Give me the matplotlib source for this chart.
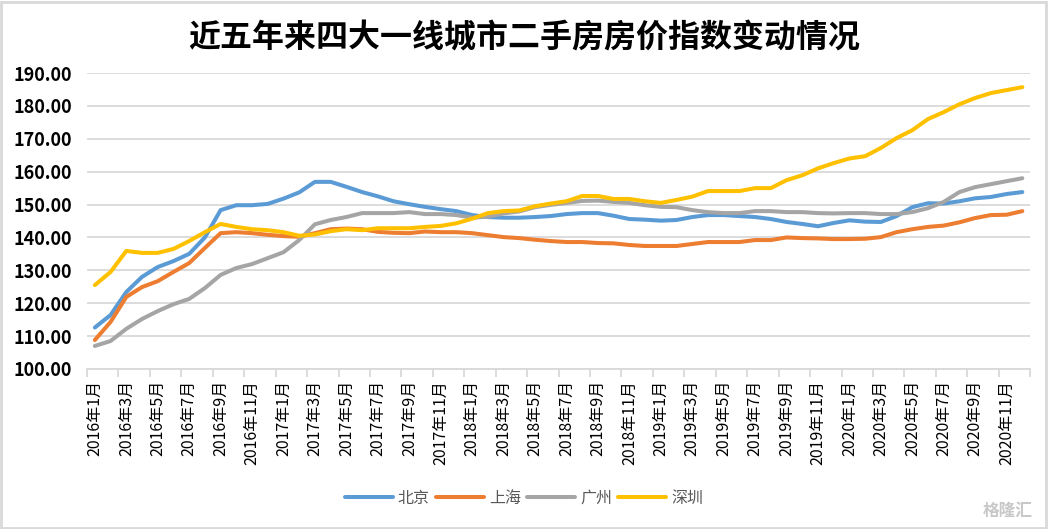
import matplotlib
matplotlib.use("Agg")
import matplotlib.pyplot as plt
from matplotlib.patches import Rectangle
from matplotlib.ticker import FixedLocator, FormatStrFormatter

plt.rcParams['font.family'] = ['Noto Sans CJK SC', 'DejaVu Sans']

# months 2016-01 .. 2020-12
months = [f"{y}年{m}月" for y in range(2016, 2021) for m in range(1, 13)]

beijing = [112.6, 116.4, 123.4, 128.0, 131.0, 132.8, 135.0, 140.0, 148.3, 149.8,
           149.8, 150.2, 151.8, 153.7, 156.9, 156.9, 155.4, 153.8, 152.5, 151.0,
           150.1, 149.3, 148.6, 148.0, 146.8, 146.2, 146.0, 146.0, 146.2, 146.5,
           147.1, 147.4, 147.4, 146.6, 145.6, 145.4, 145.1, 145.3, 146.2, 146.8,
           146.8, 146.5, 146.2, 145.6, 144.7, 144.1, 143.4, 144.4, 145.2, 144.8,
           144.7, 146.5, 149.2, 150.4, 150.3, 151.0, 151.9, 152.3, 153.2, 153.8]
shanghai = [108.8, 114.3, 121.9, 124.9, 126.7, 129.5, 132.2, 136.8, 141.3, 141.6,
            141.3, 140.8, 140.4, 140.2, 141.3, 142.5, 142.7, 142.5, 141.7, 141.4,
            141.3, 141.8, 141.6, 141.6, 141.3, 140.7, 140.1, 139.8, 139.3, 138.9,
            138.6, 138.6, 138.3, 138.2, 137.7, 137.4, 137.4, 137.4, 138.0, 138.6,
            138.6, 138.6, 139.2, 139.2, 140.0, 139.8, 139.7, 139.5, 139.5, 139.6,
            140.1, 141.6, 142.5, 143.2, 143.6, 144.6, 145.9, 146.8, 146.9, 148.0]
guangzhou = [107.0, 108.5, 112.2, 115.2, 117.6, 119.7, 121.3, 124.6, 128.6, 130.7,
             131.9, 133.7, 135.5, 139.2, 144.0, 145.3, 146.2, 147.4, 147.4, 147.4,
             147.7, 147.1, 147.1, 146.8, 146.0, 146.3, 147.3, 147.9, 149.2, 149.9,
             150.5, 151.1, 151.2, 150.8, 150.5, 149.8, 149.3, 149.2, 148.3, 147.7,
             147.4, 147.4, 148.0, 148.0, 147.7, 147.7, 147.4, 147.3, 147.4, 147.4,
             147.1, 147.1, 147.7, 148.9, 150.8, 153.8, 155.3, 156.2, 157.1, 158.0]
shenzhen = [125.5, 129.5, 135.9, 135.3, 135.3, 136.5, 138.9, 141.6, 144.1, 143.2,
            142.5, 142.2, 141.6, 140.5, 140.9, 141.9, 142.5, 142.2, 142.8, 142.8,
            142.8, 143.2, 143.5, 144.3, 145.7, 147.4, 148.0, 148.2, 149.5, 150.3,
            151.0, 152.6, 152.6, 151.7, 151.7, 151.0, 150.5, 151.4, 152.4, 154.1,
            154.1, 154.1, 155.0, 155.0, 157.4, 158.9, 161.0, 162.6, 164.0, 164.7,
            167.2, 170.2, 172.6, 176.0, 178.1, 180.5, 182.4, 183.9, 184.8, 185.7]

series = [("北京", beijing, "#5B9BD5"),
          ("上海", shanghai, "#ED7D31"),
          ("广州", guangzhou, "#A5A5A5"),
          ("深圳", shenzhen, "#FFC000")]

fig = plt.figure(figsize=(10.48, 5.29), dpi=100)
ax = fig.add_axes([0.083, 0.3025, 0.9, 0.5595])

x = list(range(len(months)))
for name, vals, col in series:
    ax.plot(x, vals, color=col, lw=2.9, label=name, solid_capstyle='round')

ax.set_ylim(100, 190)
ax.set_xlim(-0.5, len(months) - 0.5)
ax.set_yticks(range(100, 191, 10))
ax.yaxis.set_major_formatter(FormatStrFormatter('%.2f'))
ax.grid(axis='y', color='#D9D9D9', lw=1.3)
ax.set_axisbelow(True)

# tick marks at category boundaries, labels at every other category
ax.xaxis.set_major_locator(FixedLocator([i - 0.5 for i in range(0, 61, 2)]))
ax.xaxis.set_minor_locator(FixedLocator(list(range(0, 60, 2))))
ax.xaxis.set_minor_formatter(matplotlib.ticker.FixedFormatter(months[::2]))
ax.set_xticklabels([])
ax.tick_params(axis='x', which='major', length=6, color='#D9D9D9', width=1.3)
ax.tick_params(axis='x', which='minor', length=0, labelsize=11.5, rotation=90, pad=8)
ax.tick_params(axis='y', length=0, labelsize=13, pad=11)
for t in ax.get_yticklabels():
    t.set_fontweight('bold')

for s in ['top', 'right', 'left']:
    ax.spines[s].set_visible(False)
ax.spines['bottom'].set_color('#D9D9D9')
ax.spines['bottom'].set_linewidth(1.3)

fig.text(0.5, 0.928, "近五年来四大一线城市二手房房价指数变动情况",
         ha='center', va='center', fontsize=23, fontweight='bold')

leg = fig.legend(loc='center', bbox_to_anchor=(0.5, 0.058), ncol=4, frameon=False,
                 fontsize=11.5, handlelength=3.0, handletextpad=0.3, columnspacing=0.4)
for t in leg.get_texts():
    t.set_color('#595959')

fig.text(0.985, 0.035, "格隆汇", ha='right', va='center', fontsize=12,
         color='#C8C8C8', fontweight='bold')

fig.patches.append(Rectangle((0.001, 0.002), 0.997, 0.995, transform=fig.transFigure,
                             fill=False, edgecolor='#D9D9D9', lw=2))

fig.savefig("out.png", dpi=100)
